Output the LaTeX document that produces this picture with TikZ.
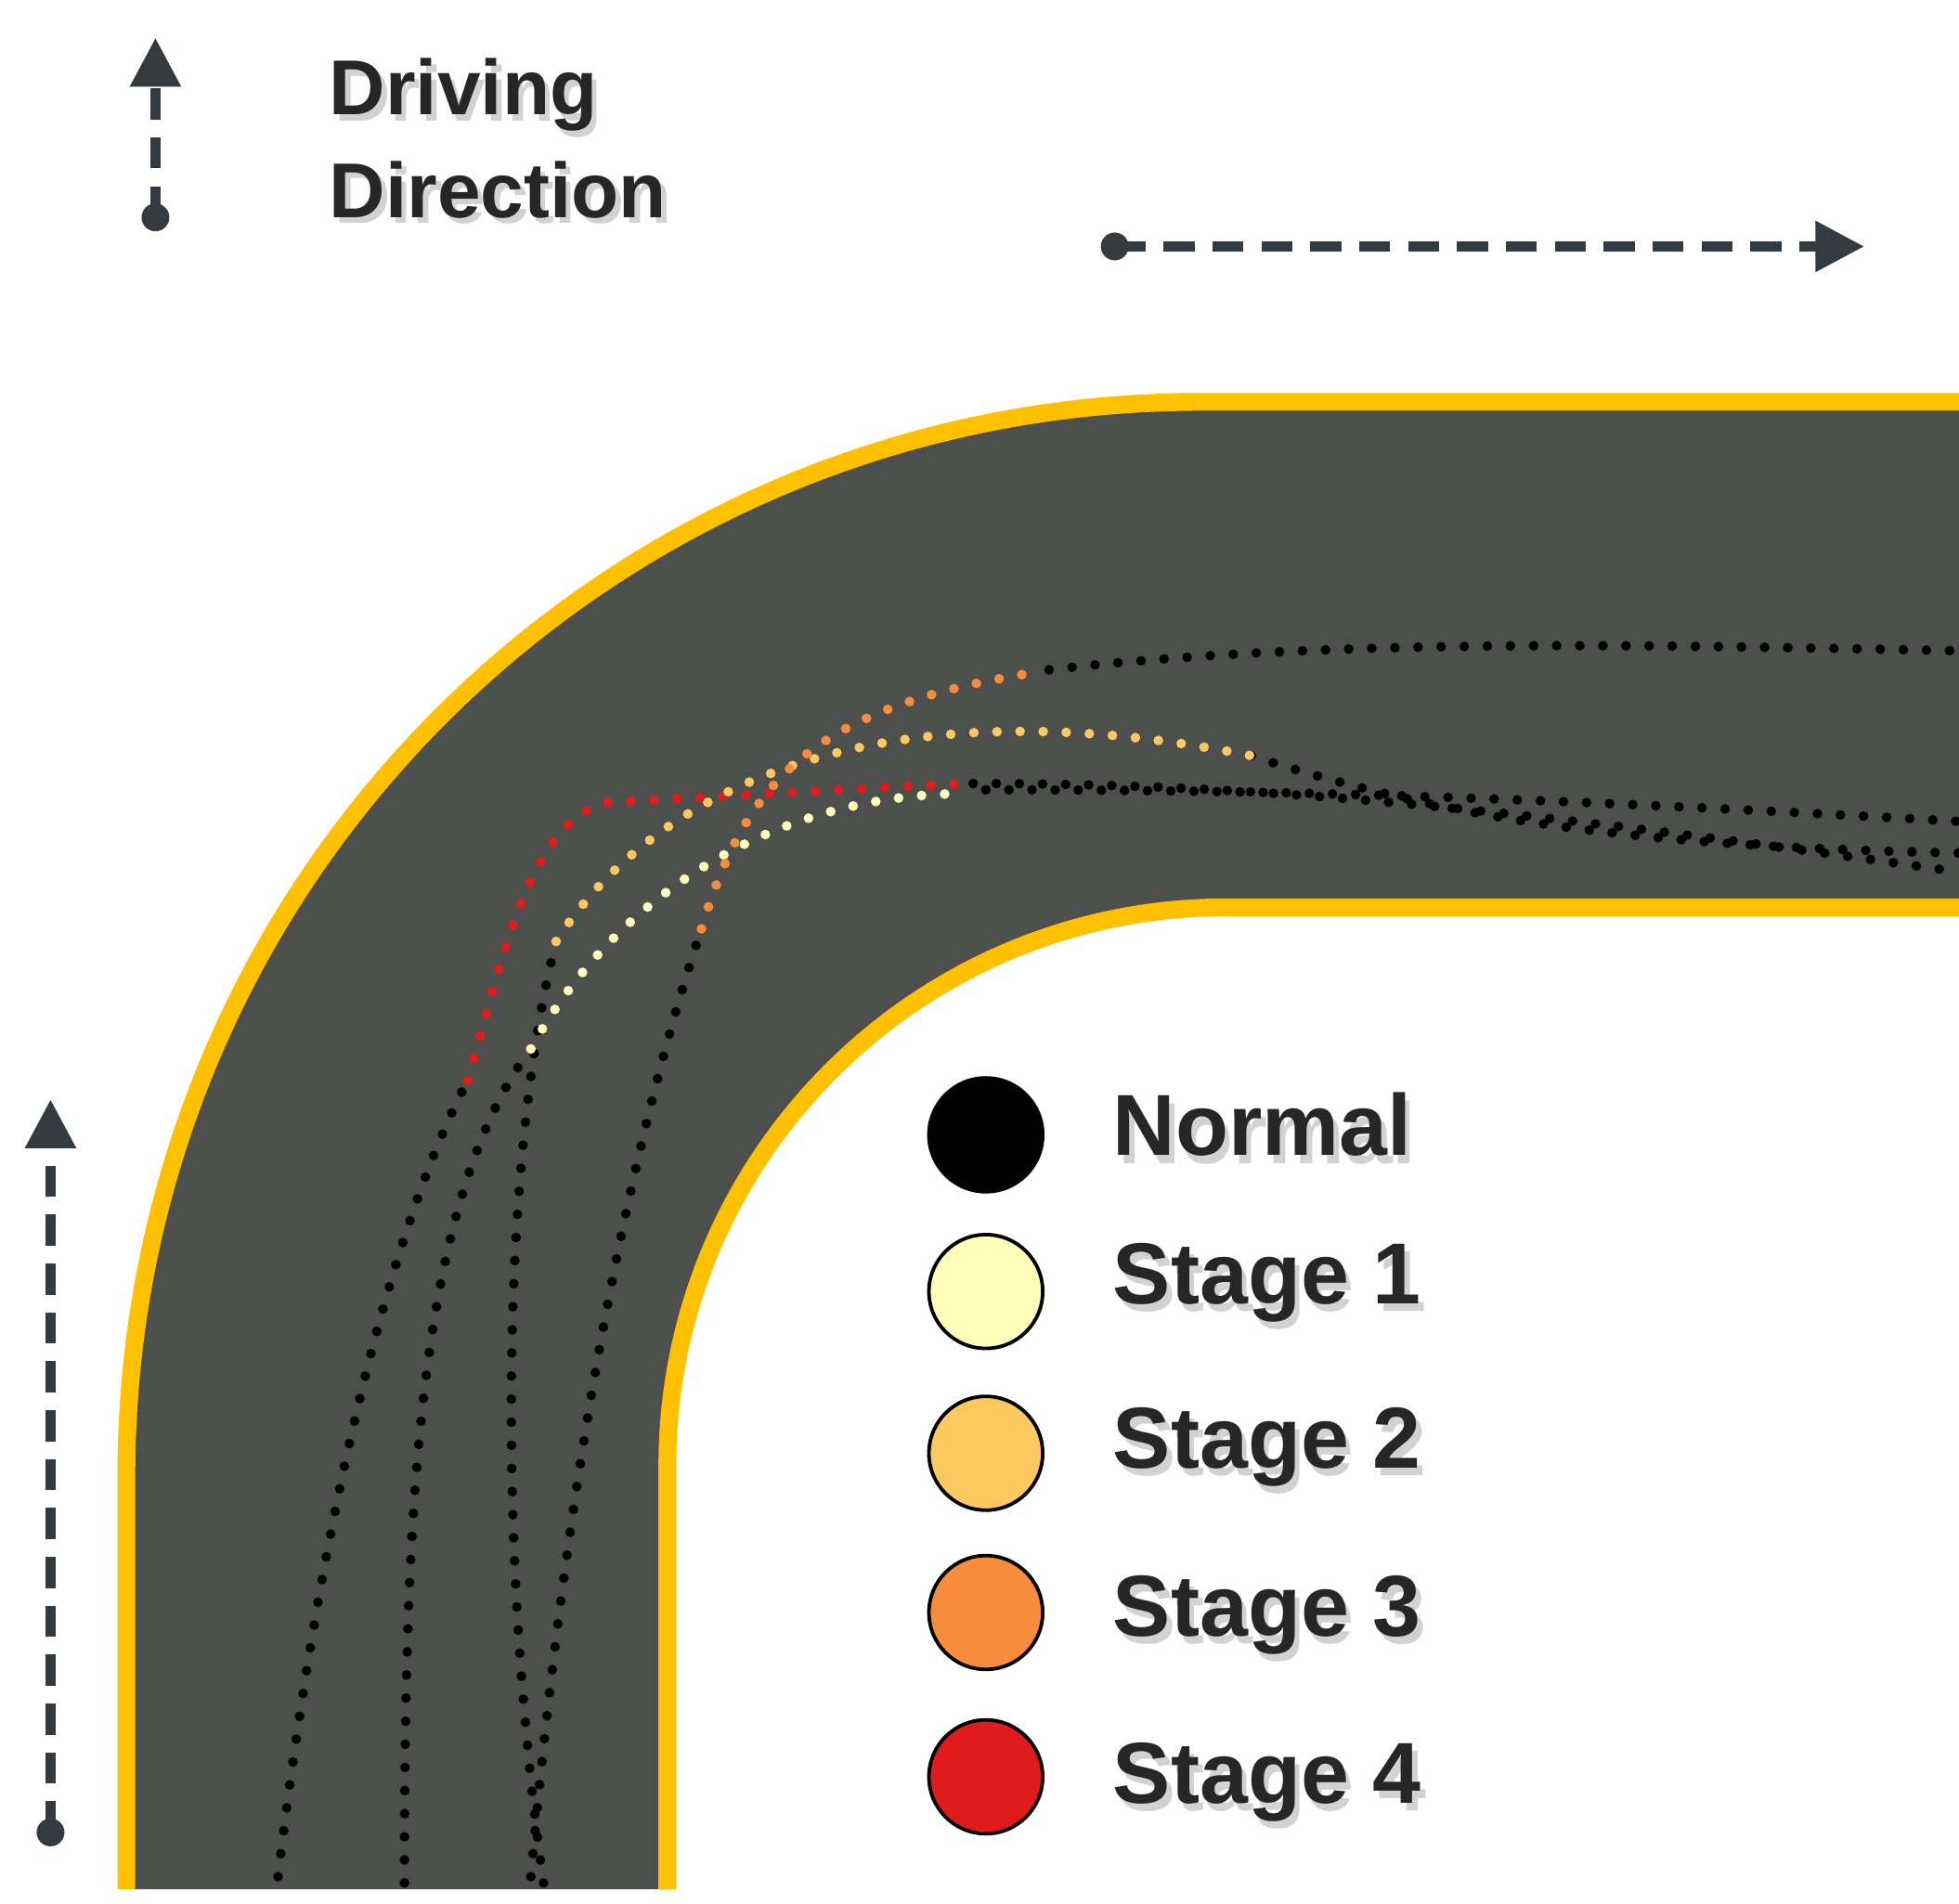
\documentclass[tikz,border=0pt]{standalone}
\usepackage{fontspec}
\setmainfont{Liberation Sans}
\usetikzlibrary{arrows.meta}
\definecolor{road}{HTML}{4D4F4C}
\definecolor{edge}{HTML}{FFC000}
\definecolor{arr}{HTML}{333A40}
\definecolor{sA}{HTML}{FFFFBB}
\definecolor{sB}{HTML}{FCC860}
\definecolor{sC}{HTML}{F78C3C}
\definecolor{sD}{HTML}{E01B1B}
\tikzset{
 traj/.style={line width=2.2pt,line cap=round,dash pattern=on 0pt off 5.2pt},
 dir/.style={arr,line width=2.2pt,dash pattern=on 7pt off 4pt,-{Triangle[length=11pt,width=11pt]}},
 lbl/.style={anchor=west,font=\bfseries\fontsize{17.5}{20}\selectfont,inner sep=0pt},
 shd/.style={lbl,text=black!35,opacity=0.5},
 leg/.style={circle,draw=black,line width=0.8pt,minimum size=0.9cm,inner sep=0pt}
}
\begin{document}
\begin{tikzpicture}[x=0.01cm,y=-0.01cm]
\useasboundingbox (0,0) rectangle (1550,1506);
\fill[white] (0,0) rectangle (1550,1506);
% road
\fill[road] (100,1495) -- (100,1168) .. controls (100,698) and (480,318) .. (950,318) -- (1550,318) -- (1550,718) -- (970,718) .. controls (726,718) and (528,916) .. (528,1160) -- (528,1495) -- cycle;
\draw[edge,line width=4pt] (100,1495) -- (100,1168) .. controls (100,698) and (480,318) .. (950,318) -- (1550,318);
\draw[edge,line width=4pt] (1550,718) -- (970,718) .. controls (726,718) and (528,916) .. (528,1160) -- (528,1495);
% trajectories - black
\draw[traj,black] (220,1485) .. controls (260,1150) and (320,950) .. (370,855);
\draw[traj,black] (320,1490) .. controls (320,1200) and (330,950) .. (420,830);
\draw[traj,black] (430,1490) .. controls (390,1200) and (400,900) .. (440,745);
\draw[traj,black] (420,1485) .. controls (450,1150) and (500,900) .. (555,735);
\draw[traj,black] (770,620) .. controls (1000,620) and (1200,640) .. (1550,690);
\draw[traj,black] (780,625) .. controls (1000,625) and (1200,630) .. (1550,650);
\draw[traj,black] (990,598) .. controls (1150,650) and (1300,670) .. (1550,675);
\draw[traj,black] (830,530) .. controls (1050,505) and (1300,510) .. (1550,515);
% coloured
\draw[traj,sD] (370,855) .. controls (400,750) and (420,650) .. (480,635) -- (760,620);
\draw[traj,sA] (420,830) .. controls (480,720) and (600,630) .. (760,628);
\draw[traj,sB] (440,745) .. controls (520,620) and (700,540) .. (990,598);
\draw[traj,sC] (555,735) .. controls (590,620) and (640,560) .. (820,532);
% direction arrows
\fill[arr] (123,172) circle (11);
\draw[dir] (123,172) -- (123,30);
\fill[arr] (40,1450) circle (11);
\draw[dir] (40,1450) -- (40,870);
\fill[arr] (882,195) circle (11);
\draw[dir] (882,195) -- (1475,195);
% text
\foreach \t/\y in {Driving/75,Direction/150}{
 \node[shd] at (264,\y+5) {\t};
 \node[lbl,text=black!85] at (260,\y) {\t};}
% legend
\node[leg,fill=black] (n0) at (780,898) {};
\node[leg,fill=sA] (n1) at (780,1022) {};
\node[leg,fill=sB] (n2) at (780,1150) {};
\node[leg,fill=sC] (n3) at (780,1276) {};
\node[leg,fill=sD] (n4) at (780,1406) {};
\foreach \t/\y in {Normal/890,Stage 1/1015,Stage 2/1145,Stage 3/1278,Stage 4/1410}{
 \node[shd,font=\bfseries\fontsize{19.5}{22}\selectfont] at (884,\y+6) {\t};
 \node[lbl,font=\bfseries\fontsize{19.5}{22}\selectfont,text=black!85] at (880,\y) {\t};}
\end{tikzpicture}
\end{document}
